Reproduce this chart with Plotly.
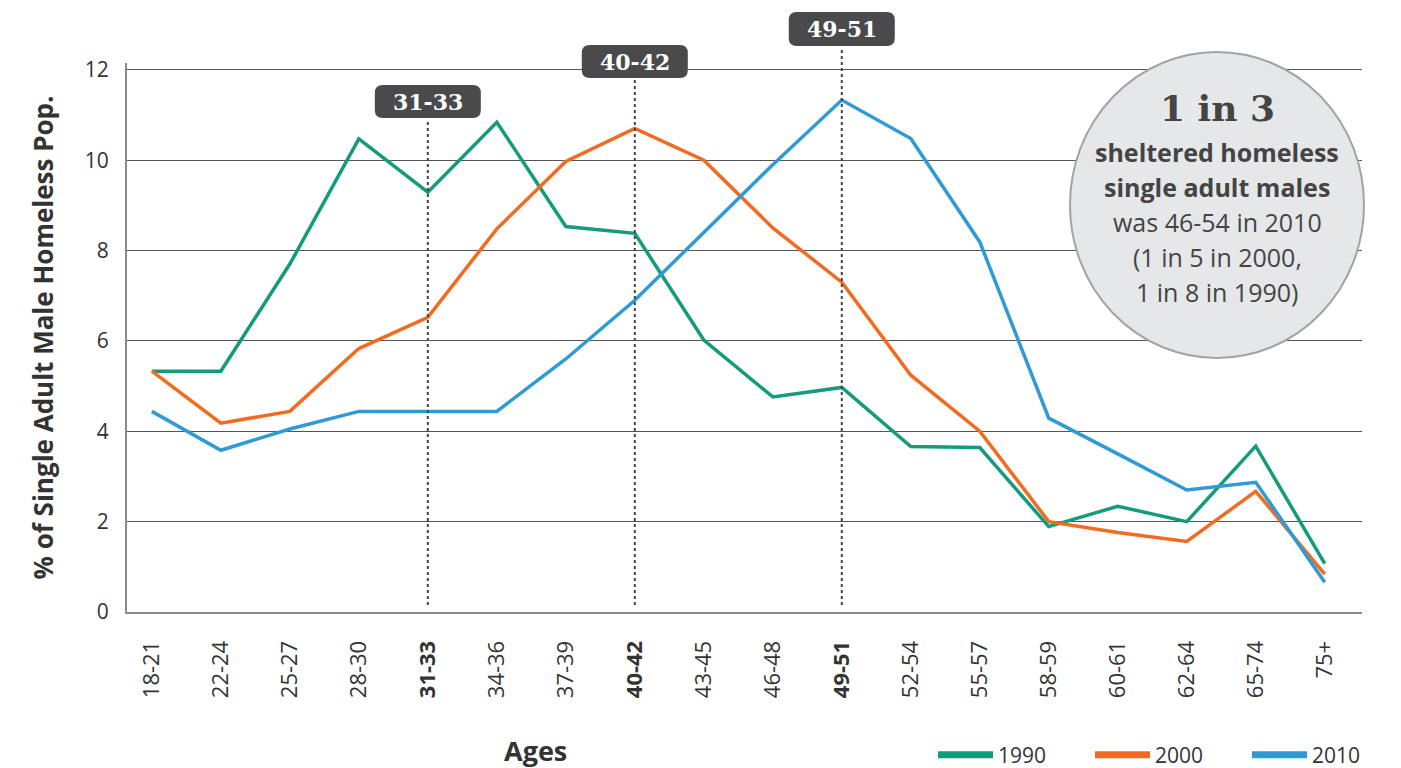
import plotly.graph_objects as go

# ── Data ────────────────────────────────────────────────────────────────────
ages = ["18-21", "22-24", "25-27", "28-30", "31-33", "34-36", "37-39", "40-42", "43-45",
        "46-48", "49-51", "52-54", "55-57", "58-59", "60-61", "62-64", "65-74", "75+"]
highlight = ["31-33", "40-42", "49-51"]

pct_1990 = [5.33, 5.33, 7.7, 10.47, 9.29, 10.84, 8.53, 8.38, 6.02, 4.76,
            4.97, 3.66, 3.64, 1.89, 2.34, 2.0, 3.67, 1.07]
pct_2000 = [5.33, 4.18, 4.44, 5.83, 6.52, 8.48, 9.97, 10.7, 10.0, 8.5,
            7.3, 5.24, 4.0, 2.0, 1.76, 1.56, 2.67, 0.84]
pct_2010 = [4.44, 3.58, 4.05, 4.44, 4.44, 4.44, 5.6, 6.9, 8.4, 9.9,
            11.33, 10.48, 8.19, 4.29, 3.5, 2.7, 2.87, 0.66]

series = [("1990", pct_1990, "#149b7c"),
          ("2000", pct_2000, "#f26b21"),
          ("2010", pct_2010, "#2e9bd6")]

callout_lines = ["<b>sheltered homeless</b>", "<b>single adult males</b>",
                 "was 46-54 in 2010", "(1 in 5 in 2000,", "1 in 8 in 1990)"]

TEXT = "#333333"
SANS = "'Open Sans', Lato, sans-serif"
SLAB = "'DejaVu Serif', serif"

# plot area in page pixels: x 127..1362, y 63..612 (page body adds an 8px offset)
X0, X1 = -0.36, 17.54
PX_PER_CAT = 1235 / (X1 - X0)


def px(pix):
    return (pix - 127) / 1235


def py(pix):
    return (612 - pix) / 549


def rounded_box(xc, top, bottom, w=106, r=8):
    """SVG path for a rounded rectangle centred on category xc (x data, y paper)."""
    hw = w / 2 / PX_PER_CAT
    rx = r / PX_PER_CAT
    ry = r / 549
    xl, xr = xc - hw, xc + hw
    yt, yb = py(top), py(bottom)
    return (f"M {xl + rx},{yt} L {xr - rx},{yt} Q {xr},{yt} {xr},{yt - ry} "
            f"L {xr},{yb + ry} Q {xr},{yb} {xr - rx},{yb} "
            f"L {xl + rx},{yb} Q {xl},{yb} {xl},{yb + ry} "
            f"L {xl},{yt - ry} Q {xl},{yt} {xl + rx},{yt} Z")


fig = go.Figure()
for name, vals, color in series:
    fig.add_trace(go.Scatter(
        x=list(range(len(ages))), y=vals, name=name, mode="lines",
        line=dict(color=color, width=3.5), showlegend=False,
    ))
    # thicker swatch for the legend only
    fig.add_trace(go.Scatter(
        x=[None], y=[None], name=name, mode="lines",
        line=dict(color=color, width=7),
    ))

# dotted markers + label boxes for the peak age groups
box_px = {"31-33": (85, 118), "40-42": (45, 78), "49-51": (12, 46)}
line_top = {"31-33": 120, "40-42": 80, "49-51": 48}
for lab in highlight:
    i = ages.index(lab)
    top, bottom = box_px[lab]
    fig.add_shape(type="line", xref="x", yref="paper", x0=i, x1=i,
                  y0=py(605), y1=py(line_top[lab]),
                  line=dict(color="#444444", width=2, dash="dot"))
    fig.add_shape(type="path", xref="x", yref="paper", path=rounded_box(i, top, bottom),
                  fillcolor="#4a4a4c", line=dict(width=0), layer="above")
    fig.add_annotation(x=i, xref="x", y=py((top + bottom) / 2), yref="paper",
                       xanchor="center", yanchor="middle",
                       text=f"<b>{lab}</b>", showarrow=False,
                       font=dict(family=SLAB, size=22, color="white"))

# grey circle callout
cx = px(1217)
fig.add_shape(type="circle", xref="paper", yref="paper",
              x0=px(1070), x1=px(1364), y0=py(358), y1=py(52),
              fillcolor="#e6e7e8", line=dict(color="#a3a3a3", width=2), layer="above")
fig.add_annotation(xref="paper", yref="paper", x=cx, y=py(108),
                   xanchor="center", yanchor="middle",
                   text="<b>1 in 3</b>", showarrow=False,
                   font=dict(family=SLAB, size=36, color="#444444"))
for k, t in enumerate(callout_lines):
    fig.add_annotation(xref="paper", yref="paper", x=cx, y=py(152 + 35 * k),
                       xanchor="center", yanchor="middle",
                       text=t, showarrow=False,
                       font=dict(family=SANS, size=25, color="#444444"))

# x-axis title sits left of centre in the original
fig.add_annotation(xref="paper", yref="paper", x=px(535), y=py(750),
                   xanchor="center", yanchor="middle", text="<b>Ages</b>", showarrow=False,
                   font=dict(family=SANS, size=27, color=TEXT))

ticktext = [f"<b>{a}</b>" if a in highlight else a for a in ages]

fig.update_layout(
    width=1393, height=760,
    margin=dict(l=119, r=39, t=55, b=156, autoexpand=False),
    paper_bgcolor="white", plot_bgcolor="white",
    font=dict(family=SANS, color=TEXT),
    xaxis=dict(
        tickmode="array", tickvals=list(range(len(ages))), ticktext=ticktext,
        tickangle=-90, range=[X0, X1], showgrid=False, zeroline=False,
        showline=True, linecolor="#8a8a8a", linewidth=2,
        tickfont=dict(size=22, color=TEXT), ticks="outside", ticklen=18,
        tickcolor="rgba(0,0,0,0)", automargin=False,
    ),
    yaxis=dict(
        range=[0, 12.15], tickvals=[0, 2, 4, 6, 8, 10, 12],
        showgrid=True, gridcolor="#555555", gridwidth=1, zeroline=False,
        showline=True, linecolor="#8a8a8a", linewidth=2,
        ticks="outside", ticklen=12, tickcolor="rgba(0,0,0,0)",
        tickfont=dict(size=21, color=TEXT), automargin=False,
        title=dict(text="<b>% of Single Adult Male Homeless Pop.</b>",
                   font=dict(size=26, color=TEXT), standoff=24),
    ),
    legend=dict(orientation="h", x=px(933), xanchor="left", y=py(755), yanchor="middle",
                font=dict(size=21, color=TEXT), itemwidth=55, entrywidth=87,
                tracegroupgap=0),
    showlegend=True,
)

fig.write_html("out.html")
